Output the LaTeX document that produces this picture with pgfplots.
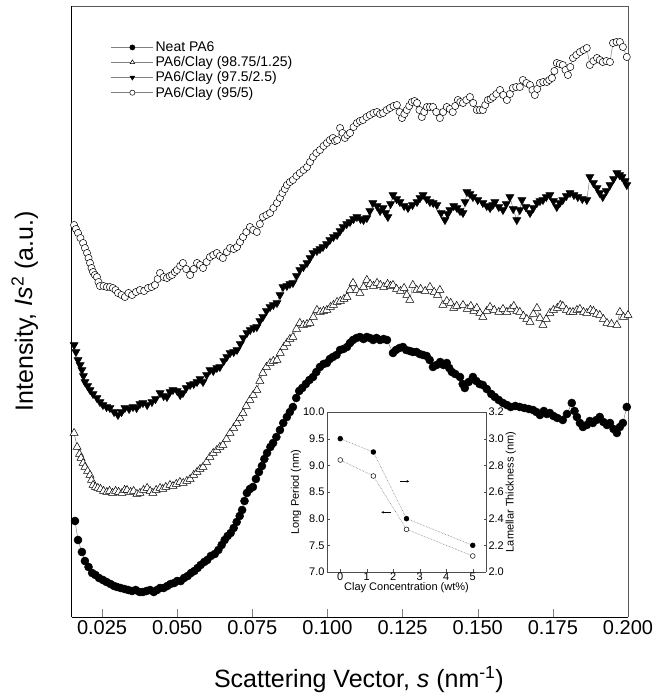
\documentclass[border=0pt]{standalone}
\usepackage{pgfplots}
\pgfplotsset{compat=1.18}
\usepackage{fontspec}
\setmainfont{Liberation Sans}
\usetikzlibrary{arrows.meta}
\begin{document}
\begin{tikzpicture}
\begin{axis}[name=main, scale only axis, width=556pt, height=611pt,
  xmin=0.015, xmax=0.2, ymin=0, ymax=611,
  axis x line*=bottom, axis y line*=left, axis line style={-, black, line width=1pt},
  xtick={0.025,0.05,0.075,0.1,0.125,0.15,0.175,0.2}, tick align=inside, major tick length=8pt,
  ytick=\empty,
  xticklabel style={font=\fontsize{20}{22}\selectfont, /pgf/number format/fixed, /pgf/number format/fixed zerofill, /pgf/number format/precision=3},
  /pgf/number format/assume math mode=true,
  scaled x ticks=false,
  xlabel={Scattering Vector, \textit{s} (nm\textsuperscript{-1})},
  xlabel style={font=\fontsize{25}{27}\selectfont, at={(axis description cs:0.516,0)}, anchor=center, yshift=-63pt},
  ylabel={Intensity, \textit{Is}\textsuperscript{2} (a.u.)},
  ylabel style={font=\fontsize{25}{27}\selectfont, at={(axis description cs:-0.085,0.5)}, anchor=center},
  clip=false,
  legend style={at={(axis description cs:0.07,0.945)}, anchor=north west, draw=none, fill=none, font=\fontsize{14}{16}\selectfont, row sep=-0.5pt, inner sep=0pt},
  legend cell align=left,
  legend image code/.code={\draw[mark repeat=2,mark phase=2, mark size=2.6pt] plot coordinates {(0pt,0pt)(21pt,0pt)(42pt,0pt)};},
]
\draw[gray!70!black, line width=0.8pt] (rel axis cs:0,1) -- (rel axis cs:1,1) -- (rel axis cs:1,0);
% Neat PA6
\addplot[gray, line width=0.5pt, mark=*, mark size=4pt, mark options={draw=black, fill=black}] coordinates {
(0.0160,96)(0.0170,77)(0.0183,65)(0.0193,56)(0.0205,50)(0.0217,44)(0.0228,42)(0.0240,39)(0.0253,37)(0.0265,35)(0.0278,33)(0.0290,31)(0.0300,30)(0.0312,29)(0.0325,28)(0.0337,27)(0.0350,26)(0.0362,27)(0.0375,25)(0.0386,25)(0.0398,26)(0.0410,27)(0.0422,25)(0.0433,27)(0.0443,29)(0.0455,29)(0.0467,31)(0.0478,33)(0.0490,34)(0.0500,36)(0.0512,36)(0.0523,39)(0.0535,41)(0.0546,44)(0.0557,46)(0.0568,49)(0.0578,52)(0.0590,55)(0.0600,57)(0.0612,61)(0.0625,63)(0.0637,67)(0.0648,72)(0.0658,77)(0.0668,81)(0.0678,84)(0.0688,89)(0.0698,95)(0.0708,101)(0.0716,107)(0.0724,116)(0.0732,124)(0.0742,128)(0.0752,130)(0.0762,138)(0.0772,145)(0.0782,151)(0.0790,158)(0.0799,164)(0.0810,170)(0.0819,174)(0.0830,180)(0.0842,187)(0.0853,194)(0.0865,200)(0.0875,205)(0.0885,210)(0.0896,219)(0.0906,226)(0.0916,229)(0.0928,233)(0.0940,237)(0.0952,240)(0.0963,245)(0.0975,250)(0.0987,253)(0.0998,254)(0.1008,258)(0.1018,260)(0.1030,262)(0.1042,267)(0.1053,268)(0.1065,270)(0.1075,274)(0.1085,277)(0.1097,279)(0.1108,280)(0.1120,278)(0.1131,280)(0.1141,279)(0.1152,277)(0.1163,279)(0.1175,277)(0.1187,278)(0.1198,277)(0.1218,264)(0.1228,267)(0.1240,269)(0.1251,270)(0.1262,267)(0.1274,266)(0.1284,265)(0.1296,265)(0.1307,263)(0.1318,262)(0.1330,261)(0.1340,257)(0.1351,250)(0.1363,252)(0.1375,255)(0.1386,252)(0.1397,254)(0.1405,249)(0.1414,245)(0.1425,243)(0.1441,240)(0.1450,233)(0.1457,229)(0.1470,235)(0.1484,240)(0.1495,236)(0.1506,233)(0.1517,232)(0.1530,228)(0.1545,223)(0.1557,220)(0.1570,217)(0.1584,214)(0.1597,212)(0.1610,210)(0.1625,211)(0.1640,210)(0.1655,209)(0.1670,208)(0.1684,207)(0.1695,205)(0.1707,202)(0.1720,206)(0.1730,203)(0.1740,204)(0.1752,201)(0.1765,199)(0.1783,197)(0.1797,203)(0.1813,214)(0.1822,206)(0.1830,200)(0.1840,194)(0.1850,190)(0.1863,192)(0.1873,196)(0.1883,194)(0.1895,197)(0.1906,200)(0.1918,195)(0.1930,192)(0.1940,194)(0.1952,188)(0.1963,184)(0.1973,190)(0.1983,194)(0.1996,210)
};
\addlegendentry{Neat PA6}
% 98.75/1.25
\addplot[gray, line width=0.5pt, mark=triangle*, mark size=4.6pt, mark options={draw=black, fill=white, line width=0.5pt}] coordinates {
(0.0157,184)(0.0167,170)(0.0175,163)(0.0180,159)(0.0187,154)(0.0193,150)(0.0202,146)(0.0210,142)(0.0215,137)(0.0220,132)(0.0228,130)(0.0236,129)(0.0245,128)(0.0255,126)(0.0266,125)(0.0275,126)(0.0285,124)(0.0295,126)(0.0305,125)(0.0316,124)(0.0325,127)(0.0333,127)(0.0345,125)(0.0355,126)(0.0366,123)(0.0376,124)(0.0388,127)(0.0400,129)(0.0410,126)(0.0419,124)(0.0430,127)(0.0443,129)(0.0452,128)(0.0462,130)(0.0476,132)(0.0486,131)(0.0497,133)(0.0509,135)(0.0520,134)(0.0532,136)(0.0543,138)(0.0555,142)(0.0566,145)(0.0576,148)(0.0586,150)(0.0598,155)(0.0609,160)(0.0620,164)(0.0632,167)(0.0642,170)(0.0652,172)(0.0664,178)(0.0676,184)(0.0688,189)(0.0699,194)(0.0709,199)(0.0719,204)(0.0730,211)(0.0742,217)(0.0753,222)(0.0765,227)(0.0775,236)(0.0785,244)(0.0797,250)(0.0809,254)(0.0820,256)(0.0832,257)(0.0843,264)(0.0855,270)(0.0865,274)(0.0875,278)(0.0885,280)(0.0897,288)(0.0908,294)(0.0920,292)(0.0932,293)(0.0942,294)(0.0953,300)(0.0965,307)(0.0976,305)(0.0987,306)(0.0998,307)(0.1010,310)(0.1020,312)(0.1032,315)(0.1043,316)(0.1055,318)(0.1065,320)(0.1075,327)(0.1085,334)(0.1097,327)(0.1108,324)(0.1120,330)(0.1131,337)(0.1142,333)(0.1153,331)(0.1165,334)(0.1176,332)(0.1187,330)(0.1200,333)(0.1210,331)(0.1218,332)(0.1230,328)(0.1243,326)(0.1255,329)(0.1264,322)(0.1274,317)(0.1284,332)(0.1297,327)(0.1310,328)(0.1325,326)(0.1341,330)(0.1355,325)(0.1366,322)(0.1374,327)(0.1384,312)(0.1397,316)(0.1410,314)(0.1420,309)(0.1430,311)(0.1451,312)(0.1465,308)(0.1477,311)(0.1487,306)(0.1497,309)(0.1507,304)(0.1517,300)(0.1530,306)(0.1541,310)(0.1555,307)(0.1570,305)(0.1584,308)(0.1597,305)(0.1610,308)(0.1620,311)(0.1630,306)(0.1640,305)(0.1652,301)(0.1663,298)(0.1674,295)(0.1685,303)(0.1697,309)(0.1707,299)(0.1717,292)(0.1728,298)(0.1740,304)(0.1752,307)(0.1765,309)(0.1775,312)(0.1783,311)(0.1795,307)(0.1807,305)(0.1817,305)(0.1830,307)(0.1840,308)(0.1852,305)(0.1863,304)(0.1875,307)(0.1885,306)(0.1895,303)(0.1906,302)(0.1918,298)(0.1930,294)(0.1945,293)(0.1963,292)(0.1973,305)(0.1985,300)(0.2000,302)
};
\addlegendentry{PA6/Clay (98.75/1.25)}
% 97.5/2.5
\addplot[gray, line width=0.5pt, mark=triangle*, mark size=4.6pt, mark options={draw=black, fill=black, rotate=180}] coordinates {
(0.0157,272)(0.0163,265)(0.0170,257)(0.0177,252)(0.0183,247)(0.0188,241)(0.0193,235)(0.0202,231)(0.0210,227)(0.0220,223)(0.0233,219)(0.0243,215)(0.0253,212)(0.0265,210)(0.0276,209)(0.0290,205)(0.0303,202)(0.0315,205)(0.0326,209)(0.0340,208)(0.0353,210)(0.0365,209)(0.0376,213)(0.0386,214)(0.0400,212)(0.0416,215)(0.0428,218)(0.0443,224)(0.0455,221)(0.0466,220)(0.0476,225)(0.0486,227)(0.0500,226)(0.0510,222)(0.0519,224)(0.0530,229)(0.0543,232)(0.0555,233)(0.0566,235)(0.0576,238)(0.0586,235)(0.0598,242)(0.0609,247)(0.0620,246)(0.0632,249)(0.0642,250)(0.0655,256)(0.0665,260)(0.0676,264)(0.0688,265)(0.0699,267)(0.0710,273)(0.0720,279)(0.0732,284)(0.0743,287)(0.0755,289)(0.0765,290)(0.0775,296)(0.0785,300)(0.0797,306)(0.0809,310)(0.0820,312)(0.0832,314)(0.0842,322)(0.0852,330)(0.0865,331)(0.0875,333)(0.0885,334)(0.0897,341)(0.0908,347)(0.0920,350)(0.0932,354)(0.0942,359)(0.0952,364)(0.0965,366)(0.0975,368)(0.0985,370)(0.0997,373)(0.1008,377)(0.1020,380)(0.1032,382)(0.1042,386)(0.1052,390)(0.1064,393)(0.1075,395)(0.1087,398)(0.1098,400)(0.1110,398)(0.1120,397)(0.1131,399)(0.1141,406)(0.1151,414)(0.1165,411)(0.1175,406)(0.1185,409)(0.1193,404)(0.1201,400)(0.1210,413)(0.1218,422)(0.1230,418)(0.1241,415)(0.1255,411)(0.1268,409)(0.1283,412)(0.1298,415)(0.1308,419)(0.1318,422)(0.1330,418)(0.1341,415)(0.1352,414)(0.1364,412)(0.1378,404)(0.1391,397)(0.1400,403)(0.1407,407)(0.1420,411)(0.1431,409)(0.1441,406)(0.1451,404)(0.1458,415)(0.1464,425)(0.1474,423)(0.1484,420)(0.1500,417)(0.1517,414)(0.1530,411)(0.1541,409)(0.1550,412)(0.1557,415)(0.1570,410)(0.1584,407)(0.1595,413)(0.1607,420)(0.1618,408)(0.1630,397)(0.1640,407)(0.1647,417)(0.1660,410)(0.1674,404)(0.1685,409)(0.1697,414)(0.1707,416)(0.1717,417)(0.1728,420)(0.1740,422)(0.1752,416)(0.1763,410)(0.1773,414)(0.1783,417)(0.1795,421)(0.1807,424)(0.1820,422)(0.1833,420)(0.1848,418)(0.1863,417)(0.1873,440)(0.1885,434)(0.1897,429)(0.1906,424)(0.1916,420)(0.1928,426)(0.1940,432)(0.1952,438)(0.1963,444)(0.1972,442)(0.1980,440)(0.1990,436)(0.1996,432)
};
\addlegendentry{PA6/Clay (97.5/2.5)}
% 95/5
\addplot[gray, line width=0.5pt, mark=*, mark size=3.6pt, mark options={draw=black, fill=white, line width=0.5pt}] coordinates {
(0.0157,392)(0.0163,388)(0.0170,384)(0.0178,379)(0.0187,374)(0.0193,369)(0.0200,364)(0.0205,359)(0.0210,354)(0.0215,349)(0.0220,345)(0.0226,342)(0.0233,340)(0.0238,335)(0.0243,331)(0.0255,331)(0.0266,330)(0.0276,330)(0.0286,329)(0.0295,327)(0.0303,324)(0.0315,322)(0.0326,320)(0.0338,324)(0.0350,322)(0.0363,325)(0.0376,327)(0.0390,326)(0.0403,329)(0.0415,330)(0.0426,332)(0.0435,338)(0.0443,344)(0.0455,340)(0.0466,339)(0.0475,341)(0.0483,342)(0.0492,345)(0.0499,347)(0.0510,351)(0.0519,354)(0.0530,348)(0.0543,342)(0.0555,348)(0.0566,354)(0.0576,352)(0.0586,349)(0.0598,355)(0.0609,360)(0.0620,362)(0.0632,364)(0.0642,361)(0.0652,359)(0.0665,365)(0.0676,369)(0.0688,368)(0.0699,370)(0.0709,375)(0.0719,380)(0.0730,385)(0.0742,390)(0.0753,387)(0.0765,385)(0.0775,393)(0.0785,400)(0.0797,402)(0.0809,404)(0.0820,409)(0.0832,414)(0.0842,419)(0.0850,424)(0.0858,428)(0.0865,432)(0.0875,435)(0.0885,437)(0.0897,441)(0.0908,444)(0.0920,447)(0.0932,450)(0.0942,455)(0.0952,460)(0.0963,464)(0.0975,467)(0.0987,471)(0.0998,474)(0.1008,477)(0.1018,479)(0.1025,476)(0.1032,477)(0.1042,489)(0.1050,484)(0.1058,479)(0.1066,482)(0.1075,484)(0.1087,490)(0.1098,494)(0.1108,496)(0.1118,497)(0.1130,500)(0.1141,502)(0.1153,504)(0.1165,505)(0.1175,503)(0.1185,504)(0.1197,507)(0.1208,509)(0.1220,511)(0.1231,512)(0.1240,505)(0.1248,499)(0.1256,503)(0.1264,507)(0.1272,511)(0.1281,515)(0.1290,516)(0.1298,514)(0.1306,507)(0.1314,500)(0.1322,505)(0.1331,510)(0.1341,510)(0.1351,510)(0.1362,505)(0.1374,499)(0.1385,505)(0.1397,510)(0.1407,508)(0.1417,505)(0.1425,511)(0.1434,517)(0.1442,515)(0.1451,514)(0.1462,517)(0.1474,520)(0.1485,514)(0.1497,507)(0.1507,507)(0.1517,507)(0.1525,512)(0.1534,517)(0.1543,518)(0.1551,520)(0.1562,523)(0.1574,527)(0.1585,522)(0.1597,517)(0.1607,523)(0.1617,529)(0.1628,530)(0.1640,530)(0.1650,537)(0.1662,534)(0.1674,532)(0.1682,527)(0.1690,522)(0.1698,528)(0.1707,534)(0.1718,535)(0.1730,535)(0.1738,537)(0.1747,539)(0.1755,546)(0.1763,554)(0.1773,553)(0.1783,552)(0.1792,547)(0.1800,542)(0.1808,550)(0.1817,559)(0.1828,562)(0.1840,565)(0.1852,567)(0.1863,569)(0.1873,552)(0.1885,556)(0.1897,559)(0.1906,557)(0.1916,555)(0.1928,556)(0.1940,555)(0.1950,574)(0.1962,575)(0.1973,575)(0.1983,570)(0.1996,560)
};
\addlegendentry{PA6/Clay (95/5)}
\end{axis}
% inset
\begin{axis}[at={(main.south west)}, shift={(255pt,45pt)}, anchor=south west, name=inset,
  scale only axis, width=159pt, height=160pt,
  xmin=-0.5, xmax=5.5, ymin=7, ymax=10,
  axis y line*=left, axis x line*=bottom, axis line style={-, gray!60!black, line width=0.6pt},
  axis background/.style={fill=white},
  xtick={0,1,2,3,4,5}, ytick={7,7.5,8,8.5,9,9.5,10},
  tick align=inside, major tick length=2.5pt, tick style={gray!60!black},
  yticklabel style={font=\fontsize{11}{12}\selectfont, /pgf/number format/fixed, /pgf/number format/fixed zerofill, /pgf/number format/precision=1, xshift=1pt},
  xticklabel style={font=\fontsize{11}{12}\selectfont, inner sep=1pt},
  /pgf/number format/assume math mode=true,
  xlabel={Clay Concentration (wt\%)}, xlabel style={font=\fontsize{11}{12}\selectfont, yshift=3pt},
  ylabel={Long Period (nm)}, ylabel style={font=\fontsize{11}{12}\selectfont, yshift=-5pt},
  clip=false,
]
\addplot[gray, densely dotted, line width=0.6pt, mark=*, mark size=2.4pt, mark options={solid, draw=black, fill=white, line width=0.5pt}] coordinates {(0,9.1)(1.25,8.8)(2.5,7.8)(5,7.3)};
\draw[-{Stealth[length=2.5pt,width=2.5pt]}, line width=0.6pt] (axis cs:1.9,8.12) -- (axis cs:1.55,8.12);
\draw[-{Stealth[length=2.5pt,width=2.5pt]}, line width=0.6pt] (axis cs:2.25,8.7) -- (axis cs:2.6,8.7);
\draw[gray!60!black, line width=0.6pt] (rel axis cs:0,1) -- (rel axis cs:1,1);
\end{axis}
\begin{axis}[at={(main.south west)}, shift={(255pt,45pt)}, anchor=south west,
  scale only axis, width=159pt, height=160pt,
  xmin=-0.5, xmax=5.5, ymin=2.0, ymax=3.2,
  axis y line*=right, axis x line=none, axis line style={-, gray!60!black, line width=0.6pt},
  ytick={2.0,2.2,2.4,2.6,2.8,3.0,3.2},
  tick align=inside, major tick length=2.5pt, tick style={gray!60!black},
  yticklabel style={font=\fontsize{11}{12}\selectfont, /pgf/number format/fixed, /pgf/number format/fixed zerofill, /pgf/number format/precision=1, xshift=-1pt},
  /pgf/number format/assume math mode=true,
  ylabel={Lamellar Thickness (nm)}, ylabel style={font=\fontsize{11}{12}\selectfont, yshift=5pt},
  clip=false,
]
\addplot[gray, densely dotted, line width=0.6pt, mark=*, mark size=2.4pt, mark options={solid, draw=black, fill=black}] coordinates {(0,3.0)(1.25,2.9)(2.5,2.4)(5,2.2)};
\end{axis}
\pgfresetboundingbox
\path (main.south west) ++(-72pt,-79pt) rectangle ++(669pt,696pt);
\end{tikzpicture}
\end{document}
